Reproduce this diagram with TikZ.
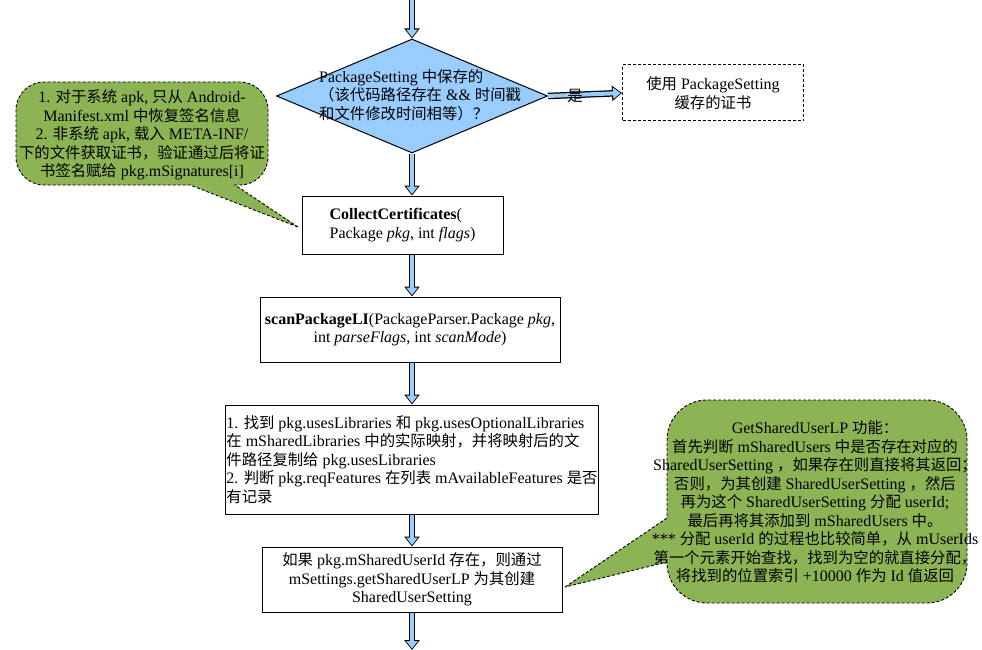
\documentclass[tikz,border=0pt]{standalone}
\usepackage{fontspec}
\setmainfont{Liberation Serif}
\newfontfamily\cjk[Scale=0.96]{Noto Sans CJK SC}
\newcommand{\zh}[1]{{\cjk #1}}
\usepackage{tikz}
\usetikzlibrary{arrows.meta,shapes.geometric}
\definecolor{flowblue}{RGB}{153,204,255}
\definecolor{notegreen}{RGB}{141,180,84}

\begin{document}
\begin{tikzpicture}[x=1pt,y=-1pt,font=\fontsize{16}{18.5}\selectfont]
            \useasboundingbox (0,0) rectangle (982,650);

            % the two notes
            \begin{scope}[fill=notegreen, draw=black, densely dashed, line width=0.9pt]
                \filldraw (298,227) -- (235,185) [rounded corners=28pt] -- (268,185) -- (268,82) -- (16,82) -- (16,185) [sharp corners] -- (190,185) -- cycle;
                \filldraw (565,587) -- (667,518) [rounded corners=40pt] -- (667,400) -- (967,400) -- (967,603) -- (667,603) [sharp corners] -- (667,562) -- cycle;
            \end{scope}

            \node (sigtxt) [align=center] at (142,135) {1. \zh{对于系统} apk, \zh{只从} Android-\\Manifest.xml \zh{中恢复签名信息}\\2. \zh{非系统} apk, \zh{载入} META-INF/\\\zh{下的文件获取证书，验证通过后将证}\\\zh{书签名赋给} pkg.mSignatures[i]};
            \node (uidtxt) [align=center] at (815,502) {GetSharedUserLP \zh{功能：}\\\zh{首先判断} mSharedUsers \zh{中是否存在对应的}\\SharedUserSetting \zh{，如果存在则直接将其返回；}\\\zh{否则，为其创建} SharedUserSetting \zh{，然后}\\\zh{再为这个} SharedUserSetting \zh{分配} userId;\\\zh{最后再将其添加到} mSharedUsers \zh{中。}\\*** \zh{分配} userId \zh{的过程也比较简单，从} mUserIds\\\zh{第一个元素开始查找，找到为空的就直接分配，}\\\zh{将找到的位置索引} +10000 \zh{作为} Id \zh{值返回}};

            \begin{scope}[every node/.style={draw, line width=1pt, fill=white, inner sep=2pt}]
                \node (check) [diamond, fill=flowblue, minimum width=271pt, minimum height=114pt] at (412,96) {};
                \node (cached) [densely dashed, minimum width=181pt, minimum height=56pt, align=center] at (713,93) {\zh{使用} PackageSetting\\\zh{缓存的证书}};
                \node (collect) [minimum width=201pt, minimum height=58pt, align=left] at (402.5,225) {\textbf{CollectCertificates}(\\Package \textit{pkg}, int \textit{flags})};
                \node (scan) [minimum width=300pt, minimum height=65pt, align=center] at (410,329.5) {\textbf{scanPackageLI}(PackageParser.Package \textit{pkg},\\int \textit{parseFlags}, int \textit{scanMode})};
                \node (libs) [minimum width=370pt, minimum height=109pt, inner xsep=1pt, align=left] at (412,459.5) {1. \zh{找到} pkg.usesLibraries \zh{和} pkg.usesOptionalLibraries\\\zh{在} mSharedLibraries \zh{中的实际映射，并将映射后的文}\\\zh{件路径复制给} pkg.usesLibraries\\2. \zh{判断} pkg.reqFeatures \zh{在列表} mAvailableFeatures \zh{是否}\\\zh{有记录}};
                \node (shared) [minimum width=300pt, minimum height=65pt, align=center] at (412,579.5) {\zh{如果} pkg.mSharedUserId \zh{存在，则通过}\\mSettings.getSharedUserLP \zh{为其创建}\\SharedUserSetting};
            \end{scope}

            \node (checktxt) [align=left, anchor=west, inner sep=0pt] at (319,95) {PackageSetting \zh{中保存的}\\\zh{（该代码路径存在} \&\& \zh{时间戳}\\\zh{和文件修改时间相等）？}};

            \coordinate (in) at (412,0);
            \coordinate (out) at (412,650);

            \begin{scope}[every edge/.style={draw=black, line width=6.5pt,
                              -{Triangle[length=10pt,width=15pt]},
                              postaction={draw=flowblue, line width=4pt, -{Triangle[length=7.5pt,width=11pt]}, shorten >=1.4pt}}]
                \path (in) edge (check.north);
                \path (check.east) edge (cached.west);
                \path (check.south) edge (check.south |- collect.north);
                \path (check.south |- collect.south) edge (check.south |- scan.north);
                \path (check.south |- scan.south) edge (libs.north);
                \path (libs.south) edge (shared.north);
                \path (shared.south) edge (out);
            \end{scope}

            \node (yes) at (575,96) {\zh{是}};
        \end{tikzpicture}
\end{document}
